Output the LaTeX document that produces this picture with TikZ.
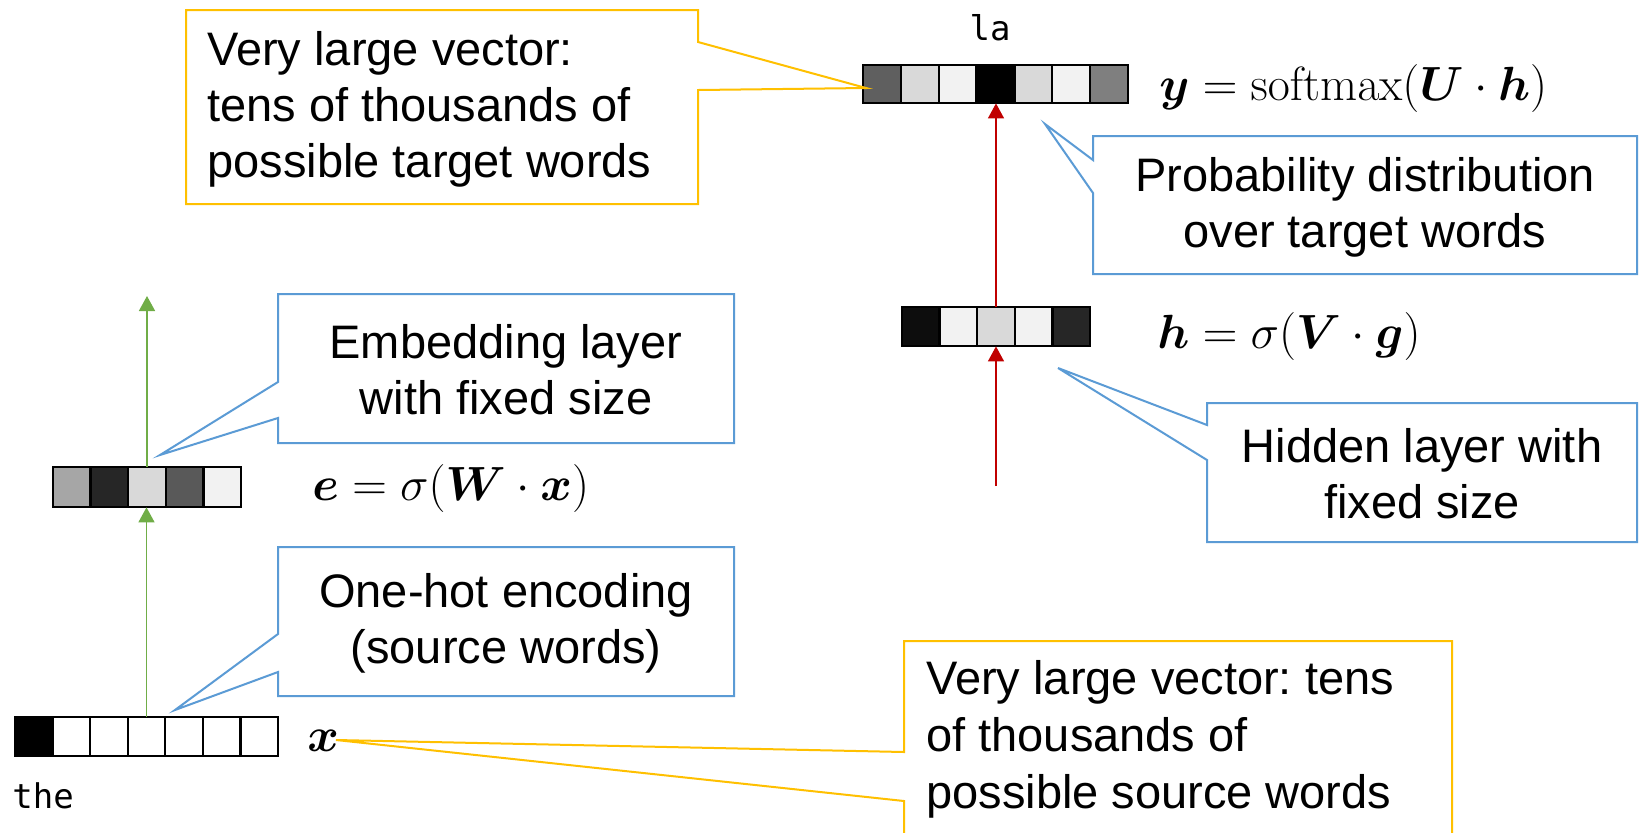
\RequirePackage{fix-cm}
\documentclass[tikz,border=0pt]{standalone}
\usepackage{amsmath,bm}
\usepackage[no-math]{fontspec}
\setmainfont{Liberation Sans}
\newfontfamily\monofont{DejaVu Sans Mono}
\usetikzlibrary{arrows.meta}
\frenchspacing
\definecolor{yel}{HTML}{FFC000}
\definecolor{blu}{HTML}{5B9BD5}
\definecolor{grn}{HTML}{70AD47}
\definecolor{rd}{HTML}{C00000}
\definecolor{gA}{HTML}{5F5F5F}
\definecolor{gB}{HTML}{D9D9D9}
\definecolor{gC}{HTML}{F2F2F2}
\definecolor{gD}{HTML}{7F7F7F}
\definecolor{gE}{HTML}{0D0D0D}
\definecolor{gF}{HTML}{262626}
\definecolor{gG}{HTML}{A6A6A6}
\definecolor{gH}{HTML}{595959}
\begin{document}
\begin{tikzpicture}[x=0.5pt,y=-0.5pt,
  cell/.style={draw=black, line width=1.2pt},
  vec/.style={rectangle, draw=none, inner sep=0pt},
  callY/.style={draw=yel, line width=1pt},
  callB/.style={draw=blu, line width=1pt},
  txt/.style={font=\frenchspacing\fontsize{23.5}{28}\selectfont, inner sep=0pt},
  txtF/.style={font=\frenchspacing\fontsize{23.5}{28.6}\selectfont, inner sep=0pt},
  eq/.style={font=\fontsize{24}{28}\selectfont, inner sep=0pt, anchor=base west},
  mono/.style={font=\monofont\fontsize{17}{20}\selectfont, inner sep=0pt},
  garrow/.style={draw=grn, line width=0.8pt, -{Triangle[width=8pt,length=7.5pt]}},
  rarrow/.style={draw=rd, line width=0.7pt, -{Triangle[width=8pt,length=7.5pt]}}]
\fill[white] (0,0) rectangle (1640,832);
\clip (0,0) rectangle (1640,832);

% ---- vectors ----
\foreach \c [count=\i from 0] in {gA,gB,gC,black,gB,gC,gD}
  \filldraw[cell, fill=\c] ({863+\i*37.857},65) rectangle ++(37.857,38);
\node[vec, minimum width=132.5pt, minimum height=19pt] (outv) at (995.5,84) {};

\foreach \c [count=\i from 0] in {gE,gC,gB,gC,gF}
  \filldraw[cell, fill=\c] ({902+\i*37.6},307) rectangle ++(37.6,39);
\node[vec, minimum width=94pt, minimum height=19.5pt] (hid) at (996,326.5) {};

\foreach \c [count=\i from 0] in {gG,gF,gB,gH,gC}
  \filldraw[cell, fill=\c] ({53+\i*37.6},467) rectangle ++(37.6,40);
\node[vec, minimum width=94pt, minimum height=20pt] (emb) at (147,487) {};

\foreach \c [count=\i from 0] in {black,white,white,white,white,white,white}
  \filldraw[cell, fill=\c] ({15+\i*37.571},717) rectangle ++(37.571,39);
\node[vec, minimum width=131.5pt, minimum height=19.5pt] (onehot) at (146.5,736.5) {};

% ---- arrows ----
\coordinate (gtop) at (147,296);
\coordinate (rbot) at (996,486);
\draw[garrow] (onehot.north) -- (onehot.north |- emb.south);
\draw[garrow] (emb.north) -- (gtop);
\draw[rarrow] (rbot) -- (hid.south);
\draw[rarrow] (hid.north) -- (hid.north |- outv.south);

% ---- labels ----
\node[mono, anchor=base] (la) at (990,40) {la};
\node[mono, anchor=base west] (the) at (12,808) {the};

% ---- equations ----
\node[eq] (eqy) at (1159,100) {$\bm{y} = \mathrm{softmax}(\bm{U}\cdot\bm{h})$};
\node[eq] (eqh) at (1157,348) {$\bm{h} = \sigma(\bm{V}\cdot\bm{g})$};
\node[eq] (eqe) at (312,500) {$\bm{e} = \sigma(\bm{W}\cdot\bm{x})$};
\node[eq] (eqx) at (307,751) {$\bm{x}$};

% ---- callouts ----
\draw[callY] (186,10) -- (698,10) -- (698,42) -- (866,88) -- (698,90) -- (698,204) -- (186,204) -- cycle;
\node[txt, align=left, anchor=west] (tA) at (207,109) {Very large vector:\\tens of thousands of\\possible target words};

\draw[callB] (1093,136) -- (1637,136) -- (1637,274) -- (1093,274) -- (1093,193) -- (1045,124) -- (1093,160) -- cycle;
\node[txt, align=center] (tB) at (1365,207) {Probability distribution\\over target words};

\draw[callB] (278,294) -- (734,294) -- (734,443) -- (278,443) -- (278,418) -- (160,455) -- (278,382) -- cycle;
\node[txt, align=center] (tC) at (506,370) {Embedding layer\\with fixed size};

\draw[callB] (278,547) -- (734,547) -- (734,696) -- (278,696) -- (278,672) -- (175,710) -- (278,634) -- cycle;
\node[txt, align=center] (tD) at (506,623) {One-hot encoding\\(source words)};

\draw[callB] (1207,403) -- (1637,403) -- (1637,542) -- (1207,542) -- (1207,460) -- (1058,368) -- (1207,425) -- cycle;
\node[txt, align=center] (tE) at (1422,474) {Hidden layer with\\fixed size};

\draw[callY] (904,641) -- (1452,641) -- (1452,870) -- (904,870) -- (904,801) -- (336,740) -- (904,752) -- cycle;
\node[txtF, align=left, anchor=north west] (tF) at (926,660) {Very large vector: tens\\of thousands of\\possible source words};
\end{tikzpicture}
\end{document}
